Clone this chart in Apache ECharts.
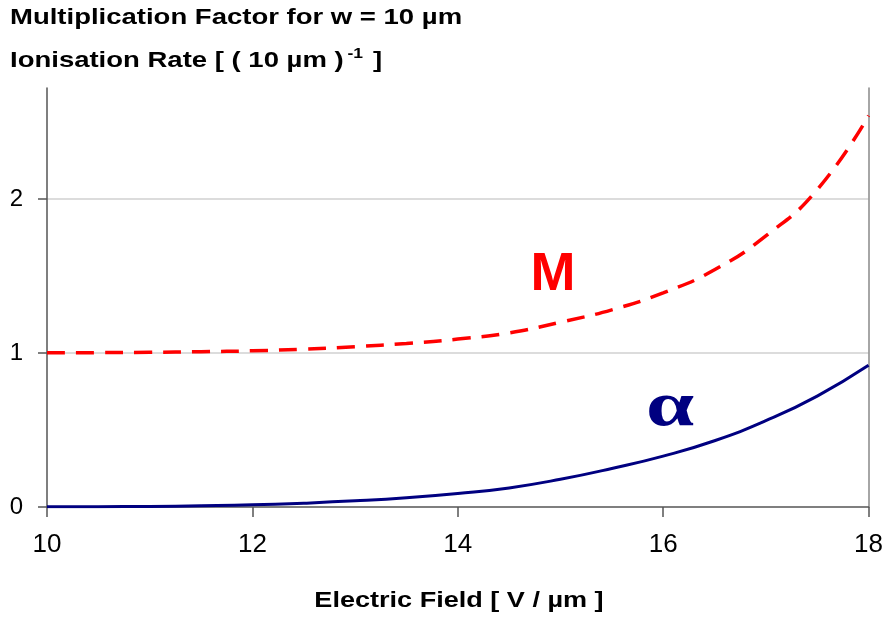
<!DOCTYPE html>
<html>
<head>
<meta charset="utf-8">
<script src="https://cdn.jsdelivr.net/npm/echarts@6/dist/echarts.min.js"></script>
<style>
html,body{margin:0;padding:0;background:#fff;}
#chart{width:886px;height:621px;}
</style>
</head>
<body>
<div id="chart"></div>
<script>
// Data
const fieldValues = [10, 10.5, 11, 11.5, 12, 12.5, 13, 13.5, 14, 14.5, 15, 15.5, 16, 16.5, 17, 17.5, 18];
const alphaValues = [0.001, 0.002, 0.004, 0.008, 0.014, 0.025, 0.040, 0.060, 0.088, 0.124, 0.18, 0.25, 0.33, 0.43, 0.56, 0.72, 0.92];
const mValues = [1.001, 1.002, 1.004, 1.008, 1.014, 1.025, 1.041, 1.062, 1.09, 1.13, 1.20, 1.28, 1.39, 1.54, 1.76, 2.06, 2.54];
const xTicks = [10, 12, 14, 16, 18];
const yTicks = [0, 1, 2];

const chart = echarts.init(document.getElementById('chart'), null, {renderer: 'canvas'});
const font = 'Liberation Sans, Arial, sans-serif';

const option = {
  backgroundColor: '#ffffff',
  animation: false,
  grid: {left: 47, right: 14, top: 88, bottom: 114, containLabel: false},
  xAxis: {
    type: 'value', min: 10, max: 18, interval: 2,
    axisLine: {show: true, lineStyle: {color: '#555', width: 1.5}},
    axisTick: {show: true, length: 10, lineStyle: {color: '#555', width: 1.5}, customValues: xTicks},
    axisLabel: {fontFamily: font, fontSize: 26, color: '#000', margin: 25, customValues: xTicks},
    splitLine: {show: false}
  },
  yAxis: [{
    type: 'value', min: 0, max: 2.72, interval: 1,
    axisLine: {show: true, onZero: false, lineStyle: {color: '#555', width: 1.5}},
    axisTick: {show: true, length: 9, lineStyle: {color: '#555', width: 1.5}, customValues: yTicks},
    axisLabel: {fontFamily: font, fontSize: 24, color: '#000', margin: 24, customValues: yTicks},
    splitLine: {show: true, showMinLine: false, lineStyle: {color: '#d0d0d0', width: 1.5}}
  }, {
    type: 'value', min: 0, max: 2.72, position: 'right',
    axisLine: {show: true, lineStyle: {color: '#888', width: 1.5}},
    axisTick: {show: false}, axisLabel: {show: false}, splitLine: {show: false}
  }],
  series: [
    {
      name: 'alpha', type: 'line', smooth: true, showSymbol: false,
      data: fieldValues.map((x, i) => [x, alphaValues[i]]),
      lineStyle: {color: '#000080', width: 3},
      z: 3
    },
    {
      name: 'M', type: 'line', smooth: true, showSymbol: false,
      data: fieldValues.map((x, i) => [x, mValues[i]]),
      lineStyle: {color: '#ff0000', width: 3.5, type: [18, 11]},
      z: 4
    }
  ],
  graphic: [
    {type: 'text', x: 10, y: 18, scaleX: 1.25, style: {text: 'Multiplication Factor for w = 10 µm', fontFamily: font, fontWeight: 'bold', fontSize: 22, fill: '#000', verticalAlign: 'middle', align: 'left'}},
    {type: 'text', x: 10, y: 61, scaleX: 1.25, style: {
      text: '{b|Ionisation Rate [ ( 10 µm )}{sup|-1}{b| ]}', verticalAlign: 'middle', align: 'left',
      rich: {
        b: {fontFamily: font, fontWeight: 'bold', fontSize: 22, fill: '#000', lineHeight: 28},
        sup: {fontFamily: font, fontWeight: 'bold', fontSize: 14, fill: '#000', lineHeight: 28, padding: [0, 2, 14, 3]}
      }
    }},
    {type: 'text', x: 459, y: 601, scaleX: 1.23, style: {text: 'Electric Field [ V / µm ]', fontFamily: font, fontWeight: 'bold', fontSize: 22, fill: '#000', verticalAlign: 'middle', align: 'center'}},
    {type: 'text', x: 553, y: 275, style: {text: 'M', fontFamily: font, fontWeight: 'bold', fontSize: 54, fill: '#ff0000', verticalAlign: 'middle', align: 'center'}},
    {type: 'text', x: 670, y: 408, scaleX: 1.35, style: {text: 'α', fontFamily: 'Liberation Serif, Times New Roman, serif', fontWeight: 'bold', fontSize: 64, fill: '#000080', verticalAlign: 'middle', align: 'center'}}
  ]
};
chart.setOption(option);
</script>
</body>
</html>
